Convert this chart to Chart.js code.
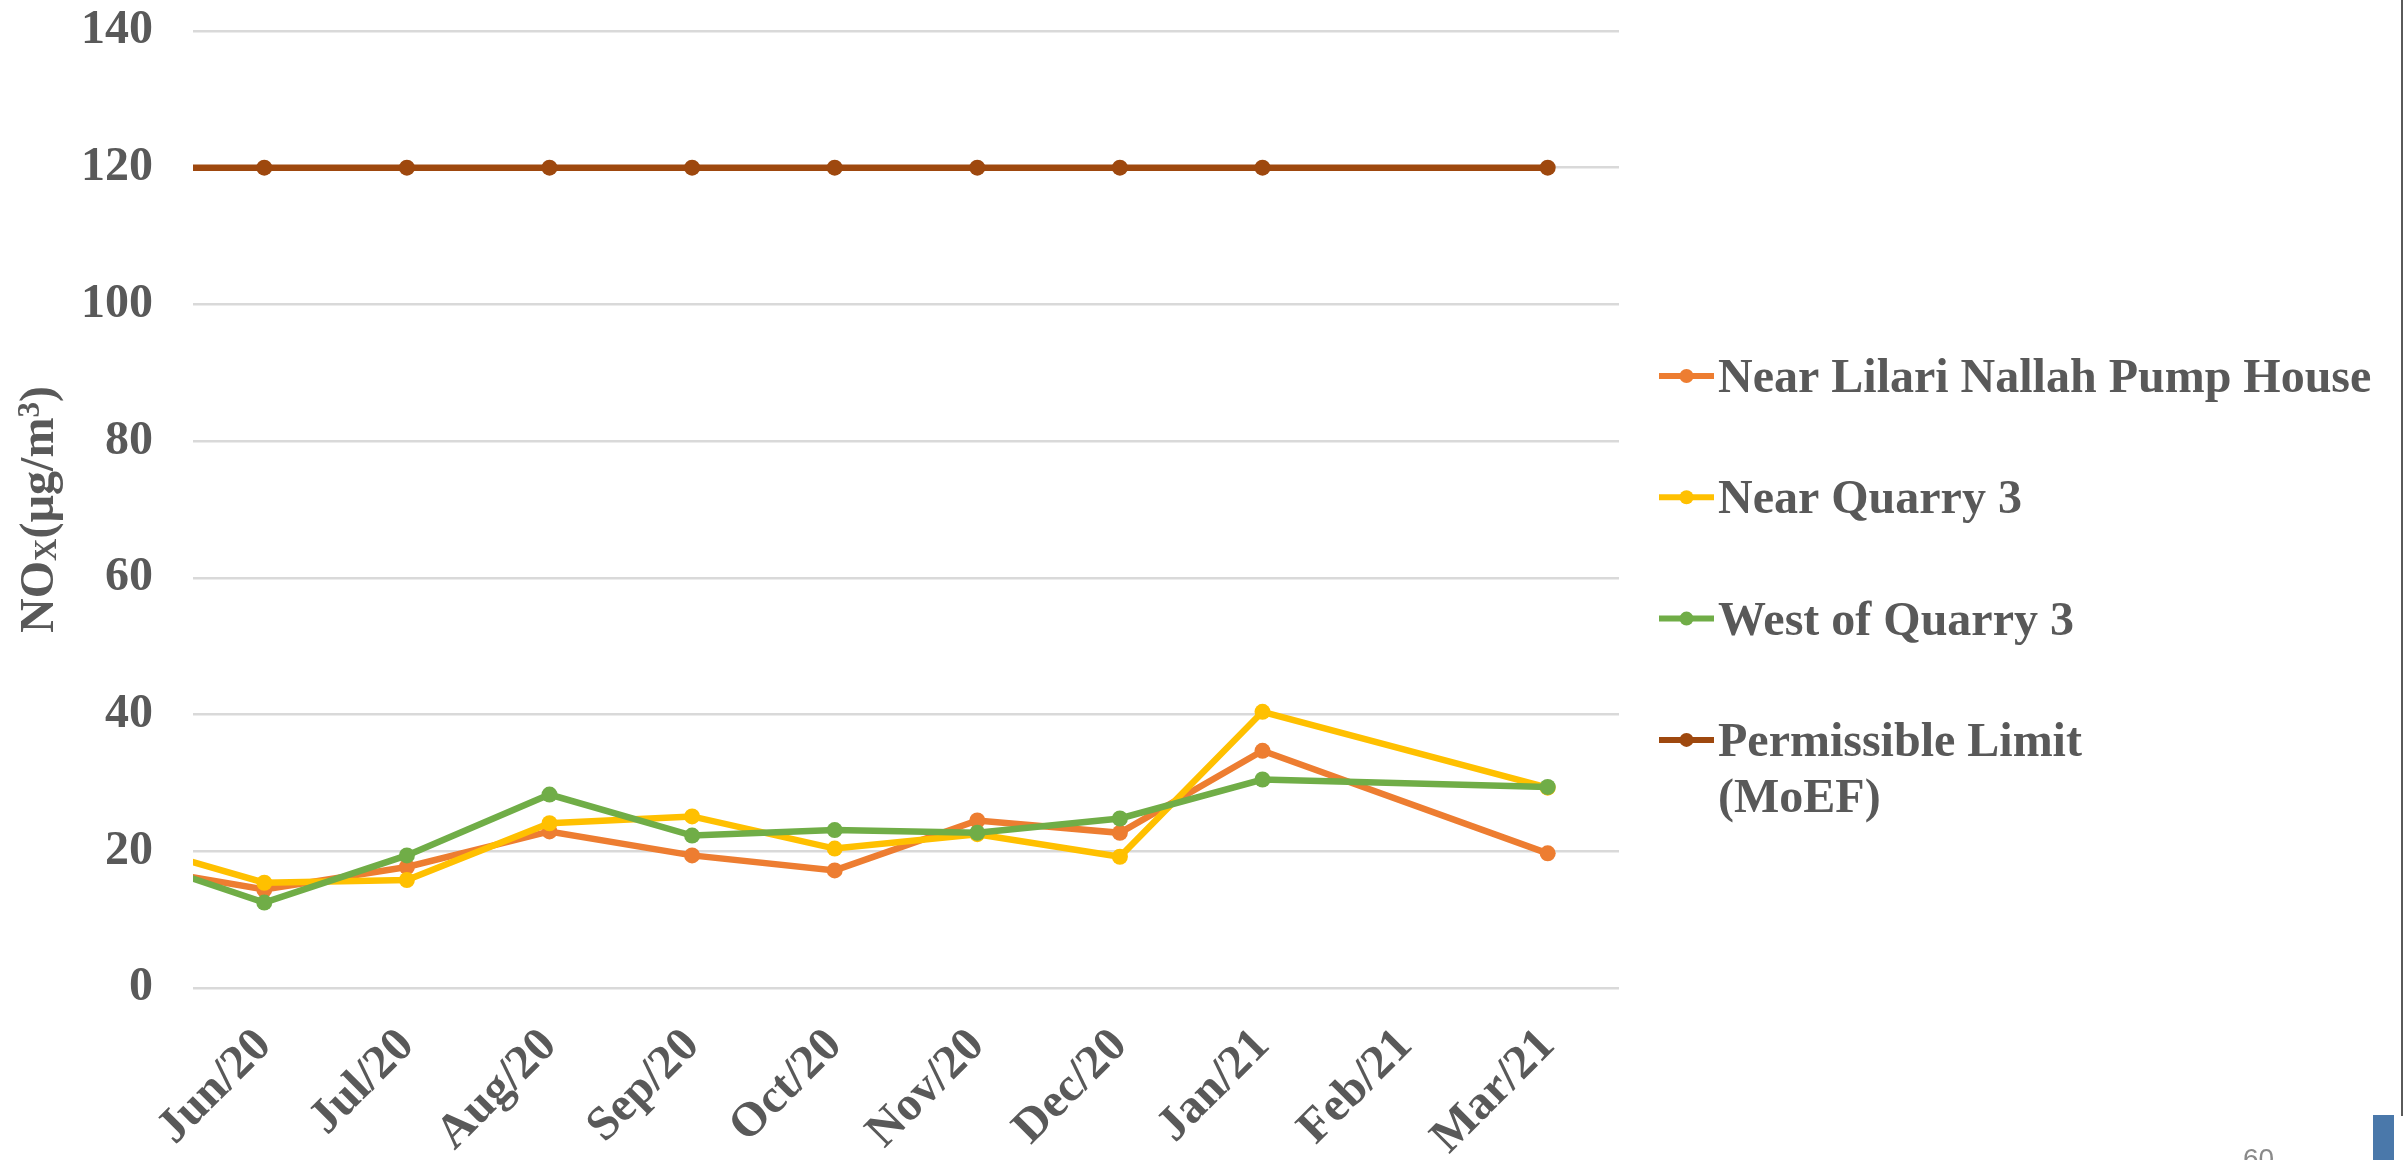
<!DOCTYPE html>
<html lang="en">
<head>
    <meta charset="UTF-8">
    <title>NOx Monitoring</title>
    <script src="https://cdn.jsdelivr.net/npm/chart.js"></script>
    <style>
        html, body { margin: 0; padding: 0; background: #ffffff; }
    </style>
</head>
<body>
    <canvas id="noxGraph" width="2407" height="1160"></canvas>

    <script>
        // May/20 lies just left of the plot: only the stub of each line is visible
        const months = ['May/20', 'Jun/20', 'Jul/20', 'Aug/20', 'Sep/20', 'Oct/20',
                        'Nov/20', 'Dec/20', 'Jan/21', 'Feb/21', 'Mar/21'];
        const firstMonthShown = 'Jun/20';

        const lilariPumpHouse = [18.0, 14.4, 17.7, 22.9, 19.4, 17.2, 24.5, 22.7, 34.7, null, 19.7];
        const nearQuarry3     = [21.4, 15.4, 15.8, 24.1, 25.1, 20.4, 22.5, 19.2, 40.4, null, 29.3];
        const westOfQuarry3   = [19.5, 12.5, 19.4, 28.3, 22.3, 23.1, 22.7, 24.8, 30.5, null, 29.4];
        const moefLimit       = [120, 120, 120, 120, 120, 120, 120, 120, 120, null, 120];

        const seriesNames = ['Near Lilari Nallah Pump House', 'Near Quarry 3',
                             'West of Quarry 3', 'Permissible Limit\n(MoEF)'];
        const seriesColors = ['#ED7D31', '#FFC000', '#70AD47', '#9E480E'];

        const yMin = 0, yMax = 140, yStep = 20;

        // y title pieces: NOx(µg/m3) with subscript x and superscript 3
        const yTitleParts = [
            { text: 'NO', sub: 0 },
            { text: 'X', sub: 1 },
            { text: '(µg/m', sub: 0 },
            { text: '3', sub: -1 },
            { text: ')', sub: 0 }
        ];

        const textGrey = '#595959';
        const serif = "'Liberation Serif', 'Times New Roman', serif";

        function makeSeries(i, values, order) {
            return {
                label: seriesNames[i],
                data: values,
                borderColor: seriesColors[i],
                backgroundColor: seriesColors[i],
                pointBackgroundColor: seriesColors[i],
                pointBorderWidth: 0,
                pointRadius: 8,
                pointHoverRadius: 8,
                borderWidth: 6.5,
                tension: 0,
                spanGaps: true,
                clip: 0,
                order: order
            };
        }

        const extrasPlugin = {
            id: 'extras',
            afterDraw(chart) {
                const ctx = chart.ctx;
                const area = chart.chartArea;

                // rotated axis title
                ctx.save();
                ctx.fillStyle = textGrey;
                ctx.textBaseline = 'alphabetic';
                let total = 0;
                yTitleParts.forEach(p => {
                    ctx.font = 'bold ' + (p.sub ? 31 : 48) + 'px ' + serif;
                    p.w = ctx.measureText(p.text).width;
                    total += p.w;
                });
                ctx.translate(53, (area.top + area.bottom) / 2);
                ctx.rotate(-Math.PI / 2);
                let x = -total / 2;
                yTitleParts.forEach(p => {
                    ctx.font = 'bold ' + (p.sub ? 31 : 48) + 'px ' + serif;
                    const dy = p.sub === 1 ? 3 : (p.sub === -1 ? -14 : 0);
                    ctx.fillText(p.text, x, dy);
                    x += p.w;
                });
                ctx.restore();

                // legend on the right
                ctx.save();
                ctx.font = 'bold 48px ' + serif;
                ctx.textAlign = 'left';
                ctx.textBaseline = 'alphabetic';
                chart.data.datasets.forEach((ds, i) => {
                    const cy = 376 + i * 121.3;
                    ctx.strokeStyle = ds.borderColor;
                    ctx.lineWidth = 6;
                    ctx.beginPath();
                    ctx.moveTo(1659, cy);
                    ctx.lineTo(1714, cy);
                    ctx.stroke();
                    ctx.fillStyle = ds.borderColor;
                    ctx.beginPath();
                    ctx.arc(1686.5, cy, 7, 0, Math.PI * 2);
                    ctx.fill();
                    ctx.fillStyle = textGrey;
                    ds.label.split('\n').forEach((line, k) => {
                        ctx.fillText(line, 1718, cy + 16 + k * 56);
                    });
                });
                ctx.restore();

                // slide leftovers: border, tab and page number
                ctx.save();
                ctx.strokeStyle = '#5a5a5a';
                ctx.lineWidth = 2;
                ctx.beginPath();
                ctx.moveTo(2402, 0);
                ctx.lineTo(2402, 1116);
                ctx.stroke();
                ctx.fillStyle = '#4A78AA';
                ctx.fillRect(2373, 1115, 21, 45);
                ctx.fillStyle = '#8a8a8a';
                ctx.font = "28px 'Liberation Sans', sans-serif";
                ctx.textBaseline = 'alphabetic';
                ctx.fillText('60', 2243, 1168);
                ctx.restore();
            }
        };

        const config = {
            type: 'line',
            data: {
                labels: months,
                datasets: [
                    makeSeries(0, lilariPumpHouse, 4),
                    makeSeries(1, nearQuarry3, 3),
                    makeSeries(2, westOfQuarry3, 2),
                    makeSeries(3, moefLimit, 1)
                ]
            },
            options: {
                responsive: false,
                animation: false,
                events: [],
                layout: { padding: { top: 31, right: 788, bottom: 0, left: 0 } },
                scales: {
                    x: {
                        type: 'category',
                        min: firstMonthShown,
                        offset: true,
                        grid: { display: false },
                        border: { display: false },
                        ticks: {
                            color: textGrey,
                            font: { family: serif, size: 48, weight: 'bold' },
                            minRotation: 45,
                            maxRotation: 45,
                            autoSkip: false,
                            padding: 22
                        },
                        afterFit(scale) { scale.height = 172; }
                    },
                    y: {
                        min: yMin,
                        max: yMax,
                        grid: { color: '#D9D9D9', lineWidth: 2.5, drawTicks: false },
                        border: { display: false },
                        ticks: {
                            stepSize: yStep,
                            color: textGrey,
                            font: { family: serif, size: 48, weight: 'bold' },
                            padding: 40
                        },
                        afterFit(scale) {
                            scale.width = 193;
                            // keep the big tick padding from pushing the plot down
                            scale.paddingTop = 25;
                            scale.paddingBottom = 25;
                        }
                    }
                },
                plugins: {
                    legend: { display: false },
                    tooltip: { enabled: false }
                }
            },
            plugins: [extrasPlugin]
        };

        new Chart(document.getElementById('noxGraph'), config);
    </script>
</body>
</html>
